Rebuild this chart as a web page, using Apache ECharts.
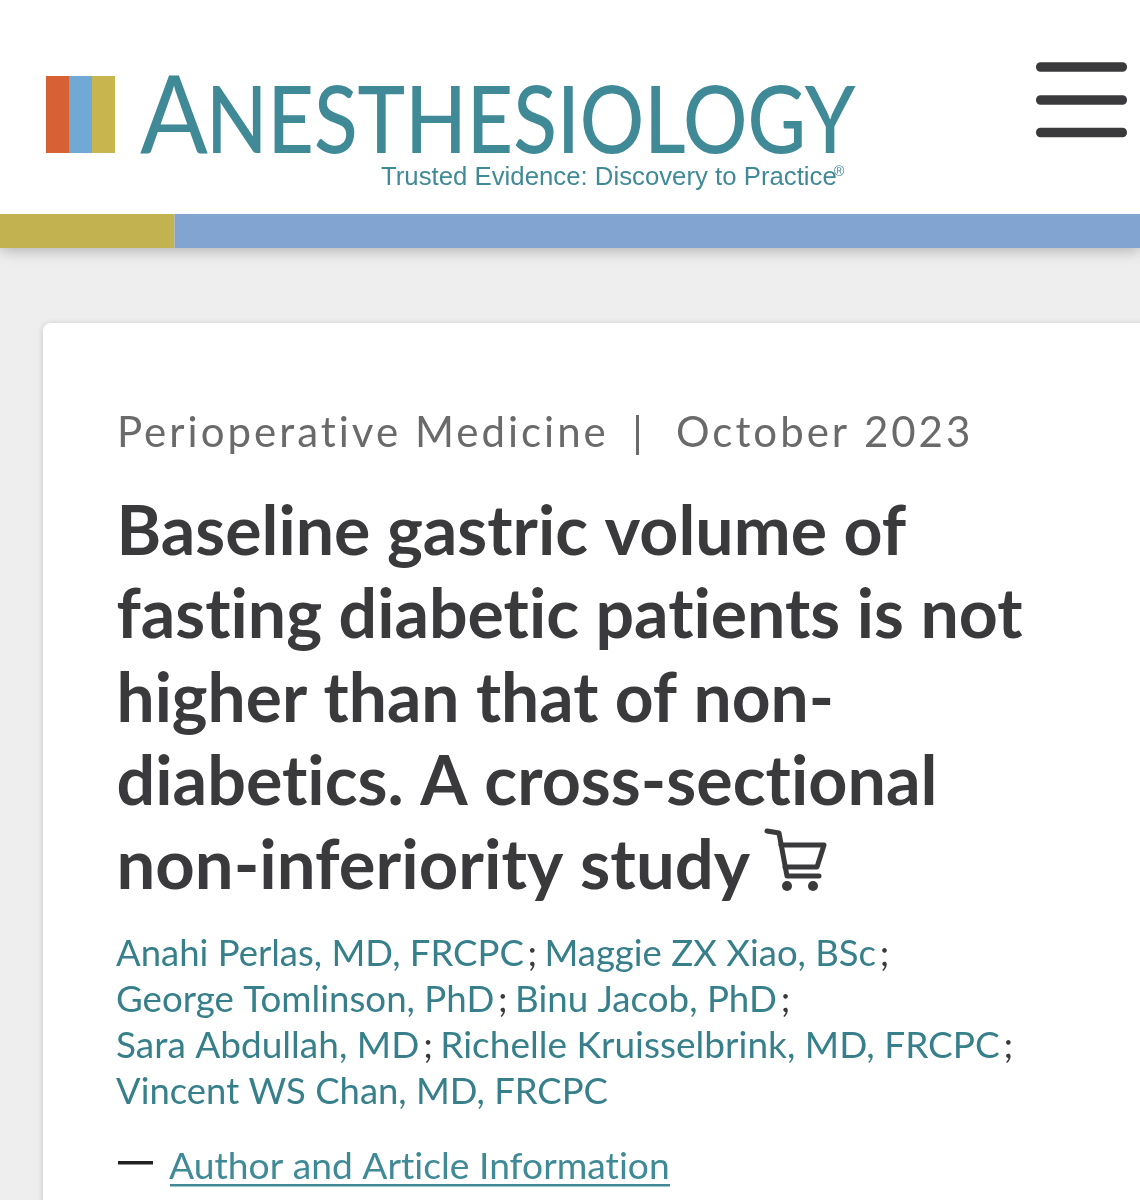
<!DOCTYPE html>
<html><head><meta charset="utf-8">
<style>html,body{margin:0;padding:0;background:#eeeeee}#c{width:1140px;height:1200px}</style>
<script src="https://cdn.jsdelivr.net/npm/echarts@6/dist/echarts.min.js"></script>
</head><body><div id="c"></div>
<script>
const logoInitial = 'A';
const logoRest = 'NESTHESIOLOGY';
const tagline = 'Trusted Evidence: Discovery to Practice';
const section = 'Perioperative Medicine';
const issueDate = 'October 2023';
const titleLines = ['Baseline gastric volume of','fasting diabetic patients is not','higher than that of non-','diabetics. A cross-sectional','non-inferiority study'];
const authorLines = [
  ['Anahi Perlas, MD, FRCPC','Maggie ZX Xiao, BSc'],
  ['George Tomlinson, PhD','Binu Jacob, PhD'],
  ['Sara Abdullah, MD','Richelle Kruisselbrink, MD, FRCPC'],
  ['Vincent WS Chan, MD, FRCPC']
];
const infoLink = 'Author and Article Information';

// Canvas letter spacing: wide tracking on the 42px kicker; a negligible value elsewhere turns off ligatures.
const nativeFill = CanvasRenderingContext2D.prototype.fillText;
CanvasRenderingContext2D.prototype.fillText = function(){
  this.letterSpacing = /\b42px/.test(this.font) ? '3px' : '0.01px';
  return nativeFill.apply(this, arguments);
};

const TEAL='#3f8a96', LINK='#37808b', DARK='#3a3a3c', GREY='#6a6a6a';
const titleFit=[1,1,0.995,1.003,1.012], authorFit=[1,1.005,1.0136,0.998];
const chart = echarts.init(document.getElementById('c'), null, {renderer:'canvas', width:1140, height:1200});
const rect=(x,y,w,h,fill,extra={})=>({type:'rect',shape:{x,y,width:w,height:h,r:extra.r||0},style:Object.assign({fill},extra.style||{}),silent:true});
const txt=(x,y,text,font,fill,extra={})=>({type:'text',x,y,scaleX:extra.sx||1,silent:true,
  style:{text,x:0,y:0,fill,font,textAlign:extra.align||'left',verticalAlign:'middle'}});
const els=[];
// page
els.push(rect(0,0,1140,1200,'#eeeeee'));
els.push(rect(0,0,1140,248,'#ffffff',{style:{shadowBlur:14,shadowColor:'rgba(0,0,0,0.28)',shadowOffsetY:2}}));
els.push(rect(0,214,174.5,34,'#c2b350'));
els.push(rect(174.5,214,966,34,'#82a4d0'));
// logo
els.push(rect(46,76,23,77,'#d86035'));
els.push(rect(69,76,23,77,'#70a9d5'));
els.push(rect(92,76,23,77,'#c8b54e'));
els.push(txt(140,118,logoInitial,'400 108px Lato',TEAL,{sx:0.93}));
els.push(txt(206,123,logoRest,'500 93px Lato',TEAL,{sx:0.864}));
els.push(txt(381,178,tagline,'26px "Liberation Sans"',TEAL,{sx:0.99}));
els.push(txt(834,172,'®','14px "Liberation Sans"',TEAL));
// menu
[67,100,132.5].forEach(y=>els.push(rect(1036,y-4.75,91,9.5,'#3a3a3c',{r:4.5})));
// card
els.push(rect(43,323,1130,900,'#ffffff',{r:8,style:{shadowBlur:6,shadowColor:'rgba(0,0,0,0.18)',shadowOffsetY:1}}));
// kicker
els.push(txt(117,433,section,'400 42px Lato',GREY));
els.push(rect(636,415,3,40,GREY));
els.push(txt(676,433,issueDate,'400 42px Lato',GREY));
// title
titleLines.forEach((t,i)=>els.push(txt(116.5,533+i*83.4,t,'700 68px Lato',DARK,{sx:titleFit[i]})));
// cart
const cs={stroke:DARK,fill:'none',lineWidth:5,lineJoin:'round',lineCap:'round'};
els.push({type:'polyline',silent:true,shape:{points:[[767,831],[779,833],[787,876],[819,876]]},style:cs});
els.push({type:'polyline',silent:true,shape:{points:[[781,845],[824,845],[817,867],[785,867]]},style:cs});
[[787,886],[813,886]].forEach(c=>els.push({type:'circle',silent:true,shape:{cx:c[0],cy:c[1],r:5},style:{fill:DARK}}));
// authors
const rich={a:{font:'400 36.5px Lato',fill:LINK},s:{font:'400 36.5px Lato',fill:DARK,padding:[0,4,0,4]}};
authorLines.forEach((line,i)=>{
  const t=line.map(n=>`{a|${n}}{s|;}`).join(' ').replace(/\{s\|;\}$/, i<authorLines.length-1?'{s|;}':'');
  els.push({type:'text',x:116,y:954+i*46,scaleX:authorFit[i],silent:true,style:{text:t,rich,x:0,y:0,verticalAlign:'middle',textAlign:'left'}});
});
// info
els.push(rect(118,1161,35,3.5,'#222222'));
els.push(txt(169,1167,infoLink,'400 37.2px Lato',TEAL));
els.push(rect(170,1184,500,2.5,TEAL));
chart.setOption({animation:false,graphic:{elements:els}});
</script></body></html>
